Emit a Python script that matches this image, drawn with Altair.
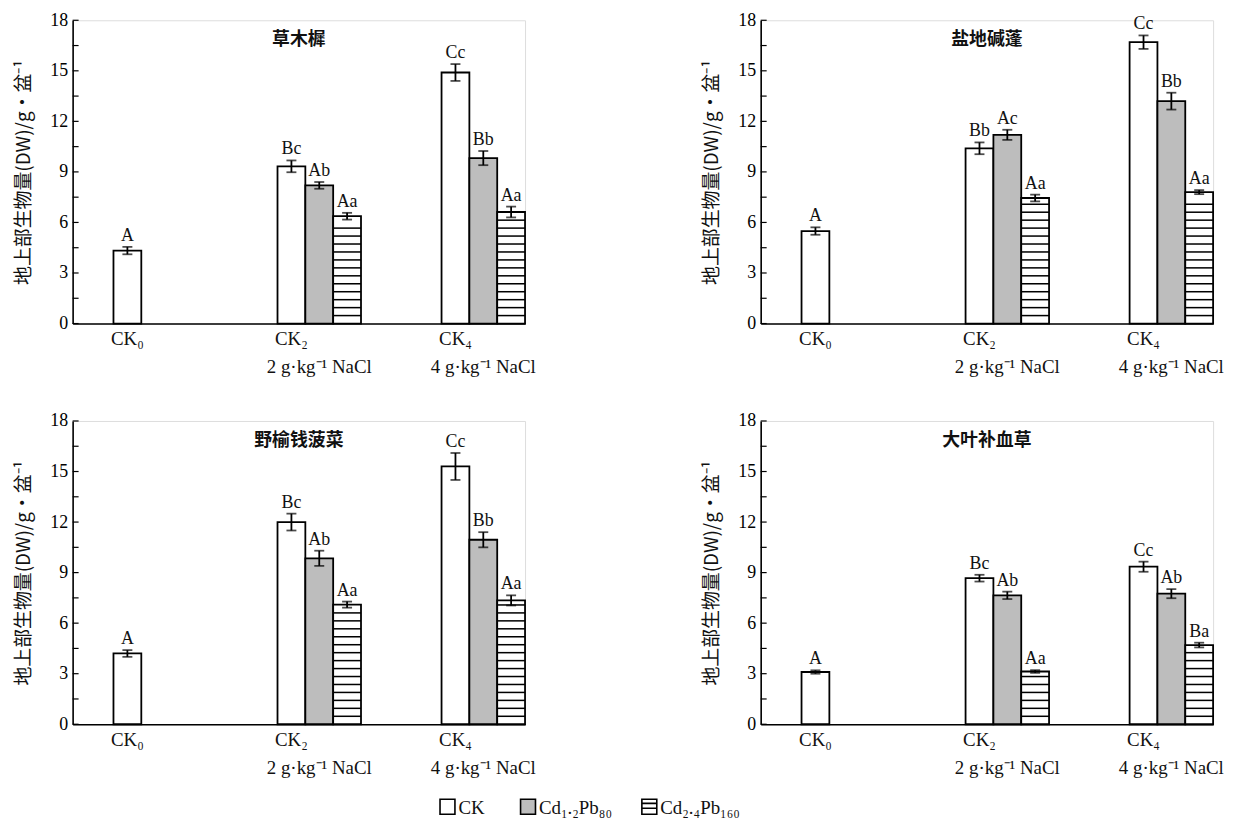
import altair as alt
import pandas as pd

SERIF = "Liberation Serif"
CJK = "Noto Sans CJK SC"

groups = ["CK0", "CK2", "CK4"]
group_labels = ["CK₀", "CK₂", "CK₄"]
group_sub = ["", "2 g·kg⁻¹ NaCl", "4 g·kg⁻¹ NaCl"]
treatments = ["CK", "Cd1.2Pb80", "Cd2.4Pb160"]
legend_labels = ["CK", "Cd₁.₂Pb₈₀", "Cd₂.₄Pb₁₆₀"]
treat_fill = ["white", "#bdbdbd", "white"]

bar_group = ["CK0", "CK2", "CK2", "CK2", "CK4", "CK4", "CK4"]
bar_treat = ["CK", "CK", "Cd1.2Pb80", "Cd2.4Pb160", "CK", "Cd1.2Pb80", "Cd2.4Pb160"]

titles = ["草木樨", "盐地碱蓬", "野榆钱菠菜", "大叶补血草"]

vals_1 = [4.33, 9.33, 8.2, 6.37, 14.9, 9.82, 6.62]
errs_1 = [0.22, 0.35, 0.2, 0.2, 0.5, 0.42, 0.32]
lets_1 = ["A", "Bc", "Ab", "Aa", "Cc", "Bb", "Aa"]

vals_2 = [5.49, 10.4, 11.2, 7.45, 16.7, 13.2, 7.8]
errs_2 = [0.22, 0.35, 0.3, 0.2, 0.4, 0.5, 0.12]
lets_2 = ["A", "Bb", "Ac", "Aa", "Cc", "Bb", "Aa"]

vals_3 = [4.2, 12.0, 9.85, 7.1, 15.3, 10.95, 7.35]
errs_3 = [0.2, 0.5, 0.45, 0.18, 0.8, 0.45, 0.3]
lets_3 = ["A", "Bc", "Ab", "Aa", "Cc", "Bb", "Aa"]

vals_4 = [3.1, 8.67, 7.65, 3.13, 9.35, 7.75, 4.7]
errs_4 = [0.1, 0.2, 0.22, 0.08, 0.3, 0.27, 0.14]
lets_4 = ["A", "Bc", "Ab", "Aa", "Cc", "Ab", "Ba"]

y_tick_marks = [0, 1.5, 3, 4.5, 6, 7.5, 9, 10.5, 12, 13.5, 15, 16.5, 18]
y_tick_labels = [0, 3, 6, 9, 12, 15, 18]

ytitle = "地上部生物量(DW)/g·盆⁻¹"
W, H = 455, 305
HATCH_STEP = 0.472   # spacing of hatch lines (styling)
HATCH_T = 0.09       # thickness of hatch lines (styling)

HATCH_PATH = "M-1,-1H1V1H-1Z M-1,-0.45H1 M-1,0.2H1"
legend_x = [377, 458, 580]


def legend_layers():
    layers = []
    for i, t in enumerate(treatments):
        d = pd.DataFrame({"treat": [t], "label": [legend_labels[i]]})
        shp = "square" if i < 2 else HATCH_PATH
        layers.append(alt.Chart(d).mark_point(
            shape=shp, filled=False, fill=treat_fill[i], stroke="black",
            strokeWidth=1.6, size=225, opacity=1
        ).encode(x=alt.value(legend_x[i]), y=alt.value(H + 83)))
        layers.append(alt.Chart(d).mark_text(
            font=SERIF, fontSize=19, align="left", baseline="middle", color="#111"
        ).encode(x=alt.value(legend_x[i] + 11), y=alt.value(H + 84), text="label:N"))
    return layers


def panel(title, vals, errs, lets, with_legend=False):
    df = pd.DataFrame({"group": bar_group, "treat": bar_treat, "value": vals,
                       "err": errs, "letter": lets})
    df["lo"] = df["value"] - df["err"]
    df["hi"] = df["value"] + df["err"]

    hrows = []
    for _, r in df[df["treat"] == treatments[2]].iterrows():
        k = 1
        while k * HATCH_STEP < r["value"] - 0.25:
            hrows.append({"group": r["group"], "treat": r["treat"],
                          "hy": k * HATCH_STEP - HATCH_T / 2,
                          "hy2": k * HATCH_STEP + HATCH_T / 2})
            k += 1
    hdf = pd.DataFrame(hrows)

    xscale = alt.Scale(domain=groups, paddingInner=0.491, paddingOuter=0.1245, align=1)
    xaxis = alt.Axis(labels=False, ticks=False, title=None, domainColor="black",
                     domainWidth=1.6, grid=False)
    xenc = alt.X("group:N", scale=xscale, axis=xaxis)
    xoff = alt.XOffset("treat:N", scale=alt.Scale(domain=treatments, paddingInner=0,
                                                   paddingOuter=0))
    yscale = alt.Scale(domain=[0, 18], nice=False, zero=True)
    yaxis = alt.Axis(values=y_tick_labels, ticks=False, grid=False, labelFont=SERIF,
                     labelFontSize=18, labelColor="black", labelPadding=5,
                     domainColor="black", domainWidth=1.6, title=ytitle,
                     titleFont=CJK, titleFontSize=19, titleFontWeight="normal",
                     titleColor="#111", titlePadding=16)

    base = alt.Chart(df)
    bars = base.mark_bar(stroke="black", strokeWidth=1.8).encode(
        x=xenc, xOffset=xoff,
        y=alt.Y("value:Q", scale=yscale, axis=yaxis),
        fill=alt.Fill("treat:N", scale=alt.Scale(domain=treatments, range=treat_fill),
                      legend=None),
    )
    hatch = alt.Chart(hdf).mark_bar(color="black").encode(
        x=xenc, xOffset=xoff,
        y=alt.Y("hy:Q", scale=yscale), y2="hy2:Q",
    )
    err = base.mark_rule(color="black", strokeWidth=1.8).encode(
        x=xenc, xOffset=xoff, y=alt.Y("lo:Q", scale=yscale), y2="hi:Q"
    )
    caps = base.transform_fold(["lo", "hi"], as_=["k", "cy"]).mark_tick(
        orient="horizontal", size=10, thickness=1.8, color="black"
    ).encode(x=xenc, xOffset=xoff, y=alt.Y("cy:Q", scale=yscale))
    letters = base.mark_text(font=SERIF, fontSize=18, baseline="alphabetic", dy=-6,
                             color="#111").encode(
        x=xenc, xOffset=xoff, y=alt.Y("hi:Q", scale=yscale), text="letter:N"
    )
    ticks = alt.Chart(pd.DataFrame({"t": y_tick_marks})).mark_rule(
        color="black", strokeWidth=1.2
    ).encode(y=alt.Y("t:Q", scale=yscale), x=alt.value(0), x2=alt.value(6))

    labdf = pd.DataFrame({"group": groups, "treat": ["CK"] * 3,
                          "l1": group_labels, "l2": group_sub})
    lab1 = alt.Chart(labdf).mark_text(font=SERIF, fontSize=19, baseline="middle",
                                      color="#111").encode(
        x=xenc, xOffset=xoff, y=alt.value(H + 16), text="l1:N"
    )
    lab2 = alt.Chart(labdf).mark_text(font=SERIF, fontSize=19, baseline="middle",
                                      color="#111").encode(
        x=xenc, y=alt.value(H + 44), text="l2:N"
    )
    ttl = alt.Chart(pd.DataFrame({"t": [title]})).mark_text(
        font=CJK, fontSize=18, fontWeight="bold", color="#111"
    ).encode(x=alt.value(W / 2), y=alt.value(20), text="t:N")

    layers = [bars, hatch, err, caps, letters, ticks, lab1, lab2, ttl]
    if with_legend:
        layers += legend_layers()
    return alt.layer(*layers).properties(width=W, height=H)


p1 = panel(titles[0], vals_1, errs_1, lets_1)
p2 = panel(titles[1], vals_2, errs_2, lets_2)
p3 = panel(titles[2], vals_3, errs_3, lets_3, with_legend=True)
p4 = panel(titles[3], vals_4, errs_4, lets_4)

chart = alt.concat(p1, p2, p3, p4, columns=2, spacing={"row": 98, "column": 237},
                   bounds="flush").properties(
    padding={"left": 6, "top": 0, "right": 5, "bottom": 5}
).configure_view(stroke=None).configure(background="white")

chart.save("out.html", embed_options={"renderer": "svg", "actions": False})
